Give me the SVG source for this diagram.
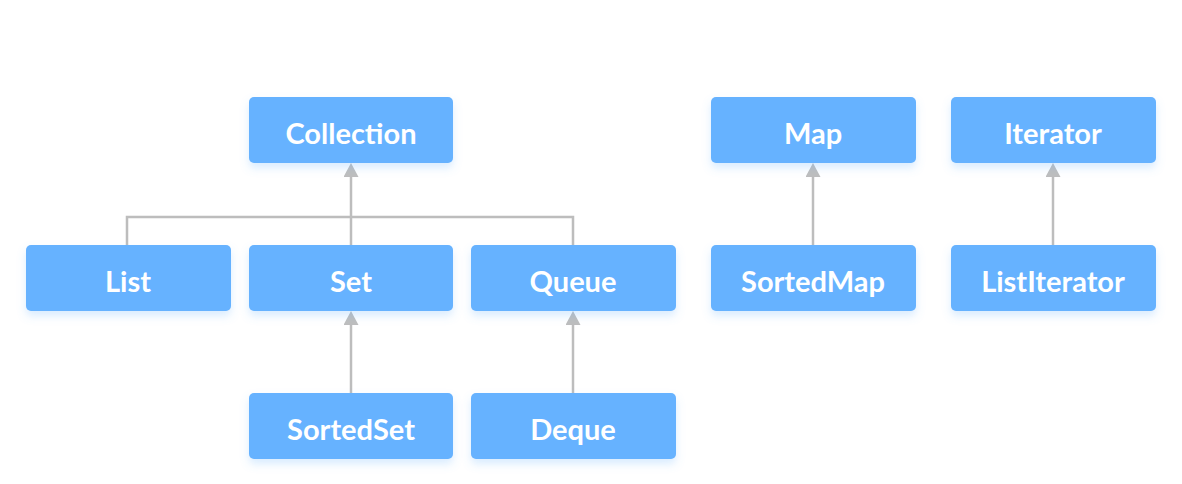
<svg xmlns="http://www.w3.org/2000/svg" width="1182" height="484" viewBox="0 0 1182 484">
<defs>
<filter id="sh" x="-10%" y="-20%" width="120%" height="160%">
<feDropShadow dx="0" dy="5" stdDeviation="4" flood-color="#66b2ff" flood-opacity="0.25"/>
</filter>
<marker id="ah" viewBox="0 0 14 15" refX="0" refY="7.5" markerWidth="14" markerHeight="15" markerUnits="userSpaceOnUse" orient="auto">
<path d="M0,0 L14,7.5 L0,15 Z" fill="#bdbdbd"/>
</marker>
</defs>
<style>
.box{fill:#66b2ff;filter:url(#sh)}
.lbl{font-family:Lato,"Open Sans",sans-serif;font-weight:700;font-size:29px;fill:#ffffff;text-anchor:middle}
.ln{stroke:#bdbdbd;stroke-width:2.5;fill:none}
</style>
<rect width="1182" height="484" fill="#ffffff"/>
<g id="connectors">
<path class="ln" d="M127,245 V217 H573 V245"/>
<path class="ln" d="M351,245 V177" marker-end="url(#ah)"/>
<path class="ln" d="M351,393 V325" marker-end="url(#ah)"/>
<path class="ln" d="M573,393 V325" marker-end="url(#ah)"/>
<path class="ln" d="M813,245 V177" marker-end="url(#ah)"/>
<path class="ln" d="M1053,245 V177" marker-end="url(#ah)"/>
</g>
<g id="collection"><rect class="box" x="249" y="97" width="204" height="66" rx="5"/><text class="lbl" x="351" y="144">Collection</text></g>
<g id="map"><rect class="box" x="711" y="97" width="205" height="66" rx="5"/><text class="lbl" x="813" y="144">Map</text></g>
<g id="iterator"><rect class="box" x="951" y="97" width="205" height="66" rx="5"/><text class="lbl" x="1053" y="144">Iterator</text></g>
<g id="list"><rect class="box" x="26" y="245" width="205" height="66" rx="5"/><text class="lbl" x="128" y="292">List</text></g>
<g id="set"><rect class="box" x="249" y="245" width="204" height="66" rx="5"/><text class="lbl" x="351" y="292">Set</text></g>
<g id="queue"><rect class="box" x="471" y="245" width="205" height="66" rx="5"/><text class="lbl" x="573" y="292">Queue</text></g>
<g id="sortedmap"><rect class="box" x="711" y="245" width="205" height="66" rx="5"/><text class="lbl" x="813" y="292">SortedMap</text></g>
<g id="listiterator"><rect class="box" x="951" y="245" width="205" height="66" rx="5"/><text class="lbl" x="1053" y="292">ListIterator</text></g>
<g id="sortedset"><rect class="box" x="249" y="393" width="204" height="66" rx="5"/><text class="lbl" x="351" y="440">SortedSet</text></g>
<g id="deque"><rect class="box" x="471" y="393" width="205" height="66" rx="5"/><text class="lbl" x="573" y="440">Deque</text></g>
</svg>
